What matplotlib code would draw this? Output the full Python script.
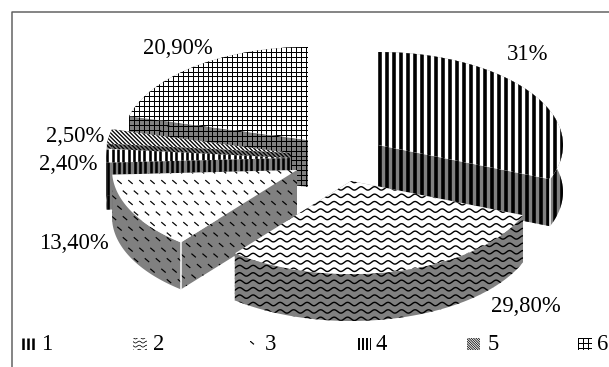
import numpy as np
import matplotlib
matplotlib.use("Agg")
import matplotlib.pyplot as plt
from matplotlib.patches import Polygon, Rectangle

# chart data
categories = ["1", "2", "3", "4", "5", "6"]
values = [31, 29.8, 13.4, 2.4, 2.5, 20.9]
value_labels = ["31%", "29,80%", "13,40%", "2,40%", "2,50%", "20,90%"]

# exploded slice layout, in pixels
centers = [(378, 145), (351, 181), (297, 170), (291, 158), (291, 153), (308, 140)]
label_pos = [(528, 54.5), (526, 307), (74, 243.5), (68, 164.5), (75, 136.5), (178, 48.5)]
patterns = ["bars", "waves", "dashes", "thinbars", "diag", "grid"]
legend_keys = [(22, 338, 14, 12), (133, 338, 14, 12), (250, 341, 5, 5),
               (358, 338, 13, 12), (467, 338, 13, 12), (578, 338, 14, 12)]
legend_scale = [0.7, 0.55, 1, 0.75, 0.6, 1]
legend_text_x = [47, 159, 270, 381, 493, 603]
draw_order = [5, 4, 3, 0, 2, 1]

RX, RY, DEPTH = 185, 93, 47
GRAY = "#808080"
PX = 0.72

plt.rcParams["font.family"] = ["Liberation Serif", "DejaVu Serif"]

fig = plt.figure(figsize=(6.09, 3.67), dpi=100)
ax = fig.add_axes([0, 0, 1, 1])
ax.set_xlim(0, 609)
ax.set_ylim(367, 0)
ax.axis("off")

ax.plot([11.5, 11.5, 609], [367, 12, 12], color="#606060", lw=1.5 * PX)

z = [3]


def rim(i, a, b, n=60):
    t = np.radians(np.linspace(a, b, n))
    cx, cy = centers[i]
    return np.column_stack([cx + RX * np.sin(t), cy - RY * np.cos(t)])


def add_hatch(patch, kind, s=1.0):
    x0, y0, w, h = patch.get_window_extent().transformed(ax.transData.inverted()).bounds
    y0, y1 = min(y0, y0 + h), max(y0, y0 + h)
    x1 = x0 + w
    arts = []
    if kind in ("bars", "thinbars"):
        step, lw = (7, 3.6) if kind == "bars" else (5.3, 2.6)
        for x in np.arange(x0 + lw * s / 2, x1 + step * s, step * s):
            arts += ax.plot([x, x], [y0, y1], color="black", lw=lw * s * PX, solid_capstyle="butt")
    elif kind == "grid":
        for x in np.arange(x0, x1 + 5, 4.9):
            arts += ax.plot([x, x], [y0, y1], color="black", lw=1.0 * PX)
        for y in np.arange(y0, y1 + 5, 4.9):
            arts += ax.plot([x0, x1], [y, y], color="black", lw=1.0 * PX)
    elif kind == "diag":
        for d in np.arange(-80, x1 - x0 + 80, 4 * s):
            arts += ax.plot([x0 + d, x0 + d + (y1 - y0)], [y0, y1], color="black", lw=1.3 * s * PX)
    elif kind == "waves":
        xs = np.arange(x0 - 2, x1 + 2, 0.5)
        for y in np.arange(y0, y1 + 8, 7.4 * s):
            arts += ax.plot(xs, y + 1.7 * s * np.sin(2 * np.pi * xs / (13.5 * s)), color="black", lw=1.4 * s * PX)
    elif kind == "dashes":
        for k, y in enumerate(np.arange(y0, y1 + 11, 10.5)):
            for x in np.arange(x0 + (k % 2) * 5.5, x1 + 11, 11):
                arts += ax.plot([x, x + 3.5], [y, y + 3], color="black", lw=1.2 * PX)
    for a in arts:
        a.set_clip_path(patch)
        a.set_zorder(z[0] + 0.5)
    z[0] += 1


def fill(points, color, kind):
    p = Polygon(points, closed=True, facecolor=color, edgecolor="none", zorder=z[0])
    ax.add_patch(p)
    add_hatch(p, kind)


starts = np.cumsum([0] + values[:-1]) * 3.6
ends = np.cumsum(values) * 3.6

for i in draw_order:
    a, b = starts[i], ends[i]
    cx, cy = centers[i]
    kind = patterns[i]
    top = rim(i, a, b)
    # radial faces, then the outer wall
    for edge in (top[0], top[-1]):
        fill([(cx, cy), edge, edge + (0, DEPTH), (cx, cy + DEPTH)], GRAY, kind)
    fill(np.vstack([top, top[::-1] + (0, DEPTH)]), GRAY, kind)
    fill(np.vstack([[(cx, cy)], top]), "white", kind)
    # light corner line where the wall meets the cut face
    if i == 0 or i == 2:
        c = rim(i, b if i == 0 else a, b if i == 0 else a, 1)[0]
        ax.plot([c[0], c[0]], [c[1], c[1] + DEPTH], color="white", lw=1.5 * PX, zorder=z[0])
        z[0] += 1

for text, (x, y) in zip(value_labels, label_pos):
    ax.text(x, y, text, fontsize=16.3, ha="center", va="center", color="black", zorder=z[0])

# legend
for i, name in enumerate(categories):
    key = Rectangle(legend_keys[i][:2], legend_keys[i][2], legend_keys[i][3],
                    facecolor="white", edgecolor="none", zorder=z[0])
    ax.add_patch(key)
    add_hatch(key, patterns[i], legend_scale[i])
    ax.text(legend_text_x[i], 345, name, fontsize=16.3, ha="center", va="center", color="black")

fig.savefig("out.png", dpi=100)
